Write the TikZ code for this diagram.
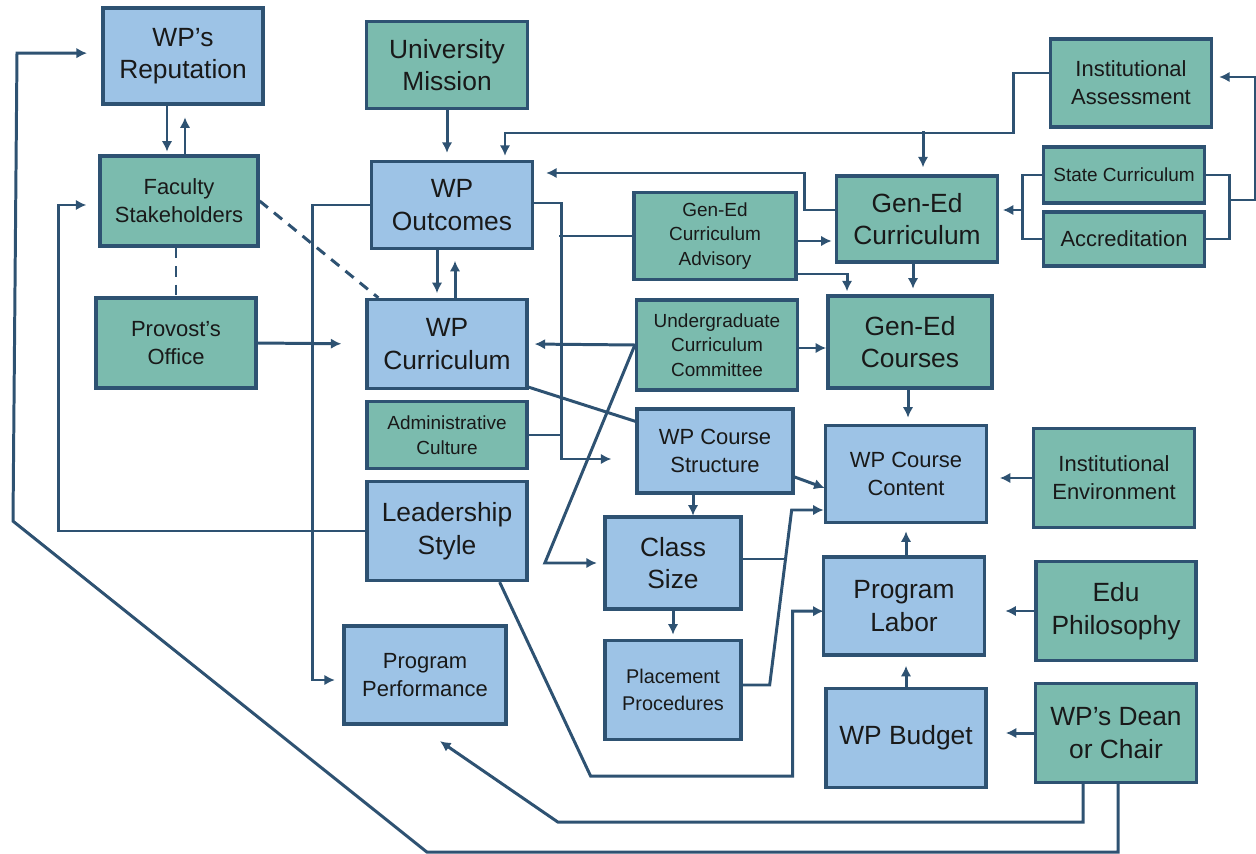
\documentclass[tikz,border=0pt]{standalone}
\usepackage{fontspec}
\setmainfont{Liberation Sans}
\usetikzlibrary{arrows.meta}
\definecolor{edge}{HTML}{2E5272}
\definecolor{wpblue}{HTML}{9DC3E6}
\definecolor{ctxgreen}{HTML}{7BBBAE}

\begin{document}
\begin{tikzpicture}[x=0.02cm, y=-0.02cm, edge, line width=1.7pt, >={Latex[length=6pt,width=6pt]}]
        \tikzstyle{every node}=[draw=edge, line width=1.9pt, align=center, inner sep=0pt, text=black!90]
        \tikzstyle{wp}=[fill=wpblue]
        \tikzstyle{ctx}=[fill=ctxgreen]
        \tikzstyle{bigtxt}=[font=\fontsize{15}{18.5}\selectfont]
        \tikzstyle{midtxt}=[font=\fontsize{12.5}{16}\selectfont]
        \tikzstyle{smalltxt}=[font=\fontsize{10.8}{14}\selectfont]
        \tikzstyle{weaklink}=[dash pattern=on 6pt off 4.5pt]

        \useasboundingbox (0,0) rectangle (1256,854);

        % left column
        \node (rep)     [wp, bigtxt, minimum width=3.2cm, minimum height=1.92cm]   at (183,56)   {WP’s\\Reputation};
        \node (fac)     [ctx, midtxt, minimum width=3.16cm, minimum height=1.8cm]  at (179,201)  {Faculty\\Stakeholders};
        \node (prov)    [ctx, midtxt, minimum width=3.2cm, minimum height=1.8cm]   at (176,343)  {Provost’s\\Office};

        % second column
        \node (mission) [ctx, bigtxt, minimum width=3.22cm, minimum height=1.74cm] at (447,65)   {University\\Mission};
        \node (outc)    [wp, bigtxt, minimum width=3.22cm, minimum height=1.74cm]  at (452,205)  {WP\\Outcomes};
        \node (curr)    [wp, bigtxt, minimum width=3.2cm, minimum height=1.78cm]   at (447,344)  {WP\\Curriculum};
        \node (admin)   [ctx, smalltxt, minimum width=3.2cm, minimum height=1.34cm] at (447,435) {Administrative\\Culture};
        \node (lead)    [wp, bigtxt, minimum width=3.2cm, minimum height=1.98cm]   at (447,531)  {Leadership\\Style};
        \node (perf)    [wp, midtxt, minimum width=3.24cm, minimum height=1.96cm]  at (425,675)  {Program\\Performance};

        % third column
        \node (adv)     [ctx, smalltxt, minimum width=3.24cm, minimum height=1.74cm] at (715,236) {Gen-Ed\\Curriculum\\Advisory};
        \node (ucc)     [ctx, smalltxt, minimum width=3.22cm, minimum height=1.8cm]  at (717,345) {Undergraduate\\Curriculum\\Committee};
        \node (struct)  [wp, midtxt, minimum width=3.12cm, minimum height=1.68cm]  at (715,451)  {WP Course\\Structure};
        \node (size)    [wp, bigtxt, minimum width=2.72cm, minimum height=1.84cm]  at (673,563)  {Class\\Size};
        \node (place)   [wp, font=\fontsize{11.3}{15}\selectfont, minimum width=2.72cm, minimum height=1.98cm] at (673,690) {Placement\\Procedures};

        % fourth column
        \node (gcurr)   [ctx, bigtxt, minimum width=3.22cm, minimum height=1.72cm] at (917,219)  {Gen-Ed\\Curriculum};
        \node (gcourse) [ctx, bigtxt, minimum width=3.28cm, minimum height=1.84cm] at (910,342)  {Gen-Ed\\Courses};
        \node (content) [wp, midtxt, minimum width=3.22cm, minimum height=1.94cm]  at (906,474)  {WP Course\\Content};
        \node (labor)   [wp, bigtxt, minimum width=3.22cm, minimum height=1.96cm]  at (904,606)  {Program\\Labor};
        \node (budget)  [wp, bigtxt, minimum width=3.2cm, minimum height=1.98cm]   at (906,738)  {WP Budget};

        % right column
        \node (assess)  [ctx, midtxt, minimum width=3.22cm, minimum height=1.76cm] at (1131,83)  {Institutional\\Assessment};
        \node (state)   [ctx, smalltxt, minimum width=3.22cm, minimum height=1.12cm] at (1124,175) {State Curriculum};
        \node (accr)    [ctx, midtxt, minimum width=3.22cm, minimum height=1.08cm] at (1124,239)  {Accreditation};
        \node (env)     [ctx, midtxt, minimum width=3.22cm, minimum height=1.98cm] at (1114,478)  {Institutional\\Environment};
        \node (edu)     [ctx, bigtxt, minimum width=3.2cm, minimum height=1.98cm]  at (1116,611)  {Edu\\Philosophy};
        \node (dean)    [ctx, bigtxt, minimum width=3.22cm, minimum height=1.98cm] at (1116,733)  {WP’s Dean\\or Chair};

        % reputation and stakeholders
        \draw[->] (rep.south) ++(-16,0) -- ++(0,46);
        \draw[->] (fac.north) ++(6,0) -- ++(0,-37);
        \draw[weaklink] (fac.south -| prov.north) -- (prov.north);
        \draw[weaklink] (fac.east) -- ([xshift=0.26cm]curr.north west);
        \draw[->, shorten >=0.48cm] (prov.east) -- (curr.west);
        \draw[->] (lead.west) -- ++(-307,0) |- ++(28,-326);
        \draw[->] (outc.west) -- ++(-57,0) |- ++(22,475);

        % outcomes and curriculum
        \draw[->, shorten >=0.14cm] (mission.south) -- (outc.north -| mission.south);
        \draw[->] (outc.south) ++(-15,0) -- ++(0,43);
        \draw[->] (curr.north) ++(8,0) -- ++(0,-37);
        \draw[->, shorten >=0.08cm] (assess.west) ++(0,-10) -| (1013,133) -| ([xshift=1.06cm]outc.north);
        \draw[->] (gcurr.north) ++(6,-43) -- ++(0,36);
        \draw[->, shorten >=0.24cm] (gcurr.west) ++(0,-9) -- ++(-30,0) |- (outc.east |- 0,173);
        \draw[->, shorten >=0.48cm] (outc.east) ++(0,-2) -| (561,459) -- (struct.west |- 0,459);
        \draw (adv.west) -- ++(-73,0);
        \draw (admin.east) -- ++(34,0);

        % gen-ed side
        \draw[->] (adv.east) ++(0,5) -- ++(34,0);
        \draw[->, shorten >=0.06cm] (adv.east) ++(0,38) -| ([xshift=-1.26cm]gcourse.north);
        \draw (state.west) -- ++(-19,0) |- (accr.west);
        \draw[->] (state.west) ++(-19,35) -- ++(-20,0);
        \draw (state.east) -- ++(23,0) |- (accr.east);
        \draw[->, shorten >=0.12cm] (state.east) ++(23,25) -- ++(26,0) |- ([yshift=0.12cm]assess.east);
        \draw[->] (gcurr.south) ++(-4,0) -- ++(0,25);
        \draw[->] (gcourse.south) ++(-2,0) -- ++(0,28);

        % committee and course structure
        \draw[->, shorten >=0.12cm] (ucc.west) -- (curr.east);
        \draw[->] (ucc.east) ++(0,3) -- ++(27,0);
        \draw[->] (ucc.west) -- ++(-90,218) -- ++(52,0);
        \draw (curr.south east) ++(0,-3) -- ([yshift=-0.28cm]struct.north west);
        \draw[->] (struct.east) ++(0,26) -- ++(30,11);
        \draw[->] (struct.south) ++(-22,0) -- ++(0,21);
        \draw[->] (size.south) -- ++(0,24);
        \draw (size.east) ++(0,-4) -- ++(42,0);
        \draw[->] (place.east) ++(0,-5) -- ++(27,0) -- ++(22,-175) -- ++(32,0);
        \draw[->] (lead.south east) ++(-29,0) -- ++(91,194) -- ++(202,0) |- ++(31,-165);

        % right side inputs
        \draw[->] (env.west) -- ++(-32,0);
        \draw[->] (edu.west) -- ++(-29,0);
        \draw[->] (dean.west) -- ++(-28,0);
        \draw[->] (labor.north) ++(2,0) -- ++(0,-24);
        \draw[->] (budget.north) -- ++(0,-21);
        \draw[->] (dean.south) ++(-33,0) -- ++(0,38) -- ++(-525,0) -- ++(-118,-81);
        \draw[->] (dean.south) ++(2,0) -- ++(0,68) -- ++(-691,0) -- ++(-414,-331) -- ++(4,-468) -- ++(70,0);

    \end{tikzpicture}
\end{document}
